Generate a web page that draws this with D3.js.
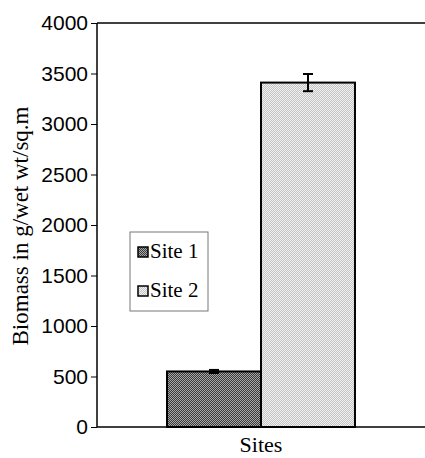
<!DOCTYPE html>
<html>
<head>
<meta charset="utf-8">
<script src="https://cdn.jsdelivr.net/npm/d3@7"></script>
<style>
    body { margin: 0; background: #fff; }
    svg { display: block; }
</style>
</head>
<body>
<script>
"use strict";

var sites = ["Site 1", "Site 2"];
var biomass = [550, 3410];
var errors = [15, 85];
var yTicks = [0, 500, 1000, 1500, 2000, 2500, 3000, 3500, 4000];

var width = 425, height = 458;
var plotLeft = 97, plotRight = 425, plotTop = 23, plotBottom = 427;

var svg = d3.select("body")
    .append("svg")
    .attr("width", width)
    .attr("height", height);

// checker fills like the old printer patterns
var defs = svg.append("defs");
function checker(id, a, b) {
    var p = defs.append("pattern")
        .attr("id", id)
        .attr("width", 2)
        .attr("height", 2)
        .attr("patternUnits", "userSpaceOnUse");
    p.append("rect").attr("width", 2).attr("height", 2).attr("fill", a);
    p.append("rect").attr("width", 1).attr("height", 1).attr("fill", b);
    p.append("rect").attr("x", 1).attr("y", 1).attr("width", 1).attr("height", 1).attr("fill", b);
}
checker("pat1", "#3a3a3a", "#a8a8a8");
checker("pat2", "#c4c4c4", "#f0f0f0");
var fills = ["url(#pat1)", "url(#pat2)"];

var y = d3.scaleLinear()
    .domain([0, 4000])
    .range([plotBottom, plotTop]);

var x = d3.scaleBand()
    .domain(sites)
    .range([plotLeft, plotRight])
    .paddingInner(0)
    .paddingOuter(0.745);

// bars
svg.selectAll("rect.bar")
    .data(sites)
    .enter()
    .append("rect")
    .attr("class", "bar")
    .attr("x", function (d) { return x(d); })
    .attr("y", function (d, i) { return y(biomass[i]); })
    .attr("width", x.bandwidth())
    .attr("height", function (d, i) { return y(0) - y(biomass[i]); })
    .attr("fill", function (d, i) { return fills[i]; })
    .attr("stroke", "#000")
    .attr("stroke-width", 2);

// error bars
var eb = svg.selectAll("g.err")
    .data(sites)
    .enter()
    .append("g")
    .attr("class", "err")
    .attr("stroke", "#000")
    .attr("stroke-width", 2);
eb.append("line")
    .attr("x1", function (d) { return x(d) + x.bandwidth() / 2; })
    .attr("x2", function (d) { return x(d) + x.bandwidth() / 2; })
    .attr("y1", function (d, i) { return y(biomass[i] + errors[i]); })
    .attr("y2", function (d, i) { return y(biomass[i] - errors[i]); });
[1, -1].forEach(function (s) {
    eb.append("line")
        .attr("x1", function (d) { return x(d) + x.bandwidth() / 2 - 5; })
        .attr("x2", function (d) { return x(d) + x.bandwidth() / 2 + 5; })
        .attr("y1", function (d, i) { return y(biomass[i] + s * errors[i]); })
        .attr("y2", function (d, i) { return y(biomass[i] + s * errors[i]); });
});

// y axis
var yAxis = svg.append("g")
    .attr("transform", "translate(" + plotLeft + ",0)")
    .call(d3.axisLeft(y).tickValues(yTicks).tickSize(6).tickPadding(3).tickFormat(d3.format("d")));
yAxis.select(".domain").attr("stroke", "#000").attr("stroke-width", 1.5).attr("d", "M0," + plotBottom + "V" + plotTop);
yAxis.selectAll(".tick line").attr("stroke", "#000");
yAxis.selectAll("text")
    .attr("font-family", "Liberation Sans, Arial, sans-serif")
    .attr("font-size", "21px")
    .attr("fill", "#000");

// top and bottom lines
svg.append("line")
    .attr("x1", plotLeft).attr("x2", plotRight)
    .attr("y1", y(4000)).attr("y2", y(4000))
    .attr("stroke", "#000").attr("stroke-width", 1.5);
svg.append("line")
    .attr("x1", plotLeft).attr("x2", plotRight)
    .attr("y1", y(0)).attr("y2", y(0))
    .attr("stroke", "#000").attr("stroke-width", 1.5);

// titles
svg.append("text")
    .text("Biomass in g/wet wt/sq.m")
    .attr("transform", "translate(28,226) rotate(-90)")
    .attr("text-anchor", "middle")
    .attr("font-family", "Liberation Serif, Times New Roman, serif")
    .attr("font-size", "23px");

svg.append("text")
    .text("Sites")
    .attr("x", x("Site 1") + x.bandwidth())
    .attr("y", 452)
    .attr("text-anchor", "middle")
    .attr("font-family", "Liberation Serif, Times New Roman, serif")
    .attr("font-size", "22px");

// legend
var legend = svg.append("g").attr("transform", "translate(130,232)");
legend.append("rect")
    .attr("width", 78)
    .attr("height", 79)
    .attr("fill", "#fff")
    .attr("stroke", "#777")
    .attr("stroke-width", 1);
var item = legend.selectAll("g.item")
    .data(sites)
    .enter()
    .append("g")
    .attr("class", "item")
    .attr("transform", function (d, i) { return "translate(8," + (15 + i * 39) + ")"; });
item.append("rect")
    .attr("width", 10)
    .attr("height", 10)
    .attr("fill", function (d, i) { return fills[i]; })
    .attr("stroke", "#000")
    .attr("stroke-width", 1.5);
item.append("text")
    .text(function (d) { return d; })
    .attr("x", 12)
    .attr("y", 11)
    .attr("font-family", "Liberation Serif, Times New Roman, serif")
    .attr("font-size", "21px");
</script>
</body>
</html>
